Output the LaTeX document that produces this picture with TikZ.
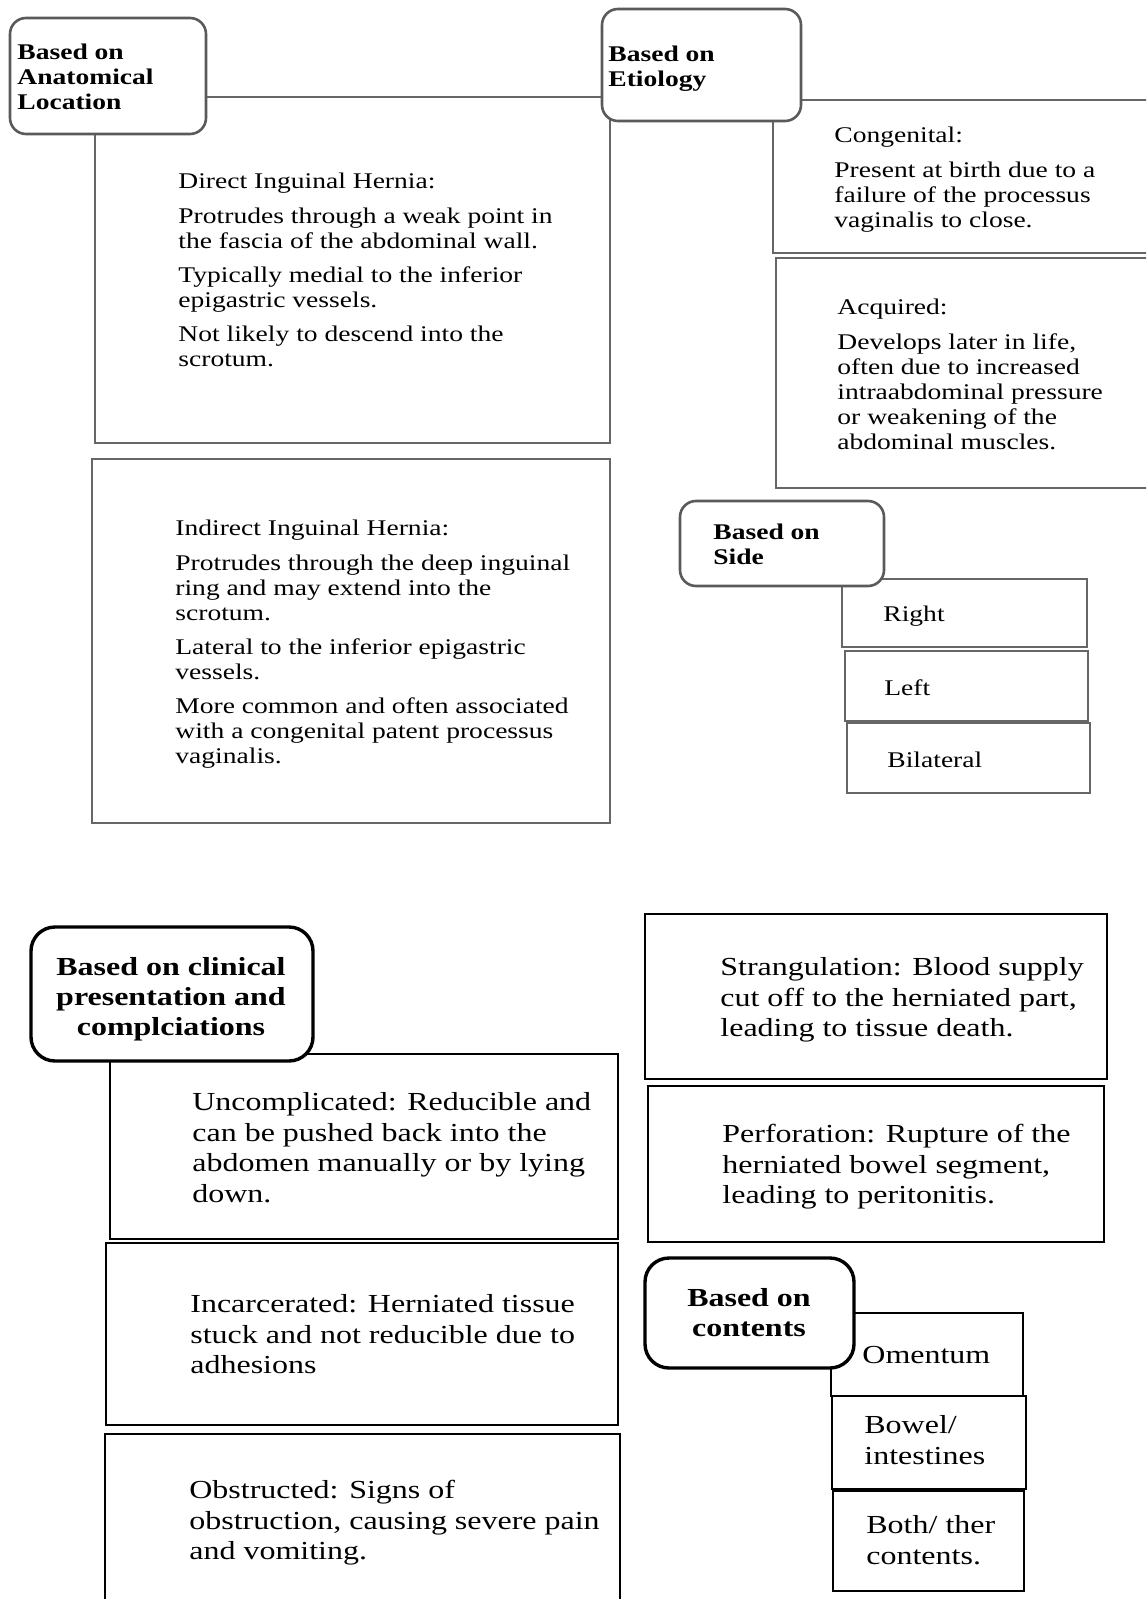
\documentclass[tikz,border=0pt]{standalone}
\usepackage{fontspec}
\setmainfont{Liberation Serif}[FakeStretch=1.23]
\usetikzlibrary{fit}
\definecolor{boxgray}{HTML}{666666}
\definecolor{headgray}{HTML}{5A5A5A}
\begin{document}
\begin{tikzpicture}[x=0.5pt,y=-0.5pt,
  gbox/.style={draw=boxgray, line width=1.2pt, inner sep=0pt},
  bbox/.style={draw=black, line width=1.4pt, inner sep=0pt},
  ghead/.style={draw=headgray, line width=1.3pt, fill=white, rounded corners=8pt, inner sep=0pt},
  bhead/.style={draw=black, line width=1.7pt, fill=white, rounded corners=12pt, inner sep=0pt},
  ttop/.style={anchor=north west, inner sep=0pt, align=left, font=\fontsize{11.2}{12.5}\selectfont},
  tbot/.style={anchor=north west, inner sep=0pt, align=left, font=\fontsize{13}{15.3}\selectfont},
  htop/.style={anchor=north west, inner sep=0pt, align=left, font=\fontsize{11.2}{12.5}\selectfont\bfseries},
  hbot/.style={anchor=north, inner sep=0pt, align=center, font=\fontsize{13}{15}\selectfont\bfseries},
]
\clip (0,0) rectangle (1146,1599);
\fill[white] (0,0) rectangle (1146,1599);

% ---------- top half: boxes ----------
\node[gbox, fit={(95,97) (610,443)}] (direct) {};
\node[gbox, fit={(773,100) (1160,253)}] (congenital) {};
\node[gbox, fit={(776,258) (1160,488)}] (acquired) {};
\node[gbox, fit={(92,459) (610,823)}] (indirect) {};
\node[gbox, fit={(842,579) (1087,647)}] (right) {};
\node[gbox, fit={(845,651) (1088,721)}] (left) {};
\node[gbox, fit={(847,723) (1090,793)}] (bilateral) {};

% ---------- bottom half: boxes ----------
\node[bbox, fit={(110,1054) (618,1239)}] (uncomp) {};
\node[bbox, fit={(106,1243) (618,1425)}] (incarc) {};
\node[bbox, fit={(105,1434) (620,1620)}] (obstr) {};
\node[bbox, fit={(645,914) (1107,1079)}] (strang) {};
\node[bbox, fit={(648,1086) (1104,1242)}] (perfor) {};
\node[bbox, fit={(831,1313) (1023,1396)}] (omentum) {};
\node[bbox, fit={(832,1396) (1026,1489)}] (bowel) {};
\node[bbox, fit={(833,1491) (1024,1591)}] (both) {};

% ---------- headers ----------
\node[ghead, fit={(10,18) (206,134)}] (anat) {};
\node[ghead, fit={(602,9) (801,121)}] (etio) {};
\node[ghead, fit={(680,501) (884,586)}] (side) {};
\node[bhead, fit={(31,927) (313,1061)}] (clin) {};
\node[bhead, fit={(645,1258) (854,1368)}] (cont) {};

% ---------- header texts ----------
\node[htop] (anatT) at (17,44) {Based on\\Anatomical\\Location};
\node[htop] (etioT) at (608,46) {Based on\\Etiology};
\node[htop] (sideT) at (713,524) {Based on\\Side};
\node[hbot] (clinT) at (171,957) {Based on clinical\\presentation and\\complciations};
\node[hbot] (contT) at (749,1288) {Based on\\contents};

% ---------- texts ----------
\node[ttop] (directT) at (178,173) {Direct Inguinal Hernia:\\[4.6pt]
Protrudes through a weak point in\\the fascia of the abdominal wall.\\[4.6pt]
Typically medial to the inferior\\epigastric vessels.\\[4.6pt]
Not likely to descend into the\\scrotum.};
\node[ttop] (congT) at (834,127) {Congenital:\\[4.6pt]
Present at birth due to a\\failure of the processus\\vaginalis to close.};
\node[ttop] (acqT) at (837,299) {Acquired:\\[4.6pt]
Develops later in life,\\often due to increased\\intraabdominal pressure\\or weakening of the\\abdominal muscles.};
\node[ttop] (indirT) at (175,520) {Indirect Inguinal Hernia:\\[4.6pt]
Protrudes through the deep inguinal\\ring and may extend into the\\scrotum.\\[4.6pt]
Lateral to the inferior epigastric\\vessels.\\[4.6pt]
More common and often associated\\with a congenital patent processus\\vaginalis.};
\node[ttop] (rightT) at (883,606) {Right};
\node[ttop] (leftT) at (884,679) {Left};
\node[ttop] (bilatT) at (887,752) {Bilateral};

\node[tbot] (uncompT) at (192,1092) {Uncomplicated: Reducible and\\can be pushed back into the\\abdomen manually or by lying\\down.};
\node[tbot] (incarcT) at (190,1294) {Incarcerated: Herniated tissue\\stuck and not reducible due to\\adhesions};
\node[tbot] (obstrT) at (189,1480) {Obstructed: Signs of\\obstruction, causing severe pain\\and vomiting.};
\node[tbot] (strangT) at (720,957) {Strangulation: Blood supply\\cut off to the herniated part,\\leading to tissue death.};
\node[tbot] (perforT) at (722,1124) {Perforation: Rupture of the\\herniated bowel segment,\\leading to peritonitis.};
\node[tbot] (omentumT) at (862,1346) {Omentum};
\node[tbot] (bowelT) at (864,1415) {Bowel/\\intestines};
\node[tbot] (bothT) at (866,1515) {Both/ ther\\contents.};
\end{tikzpicture}
\end{document}
